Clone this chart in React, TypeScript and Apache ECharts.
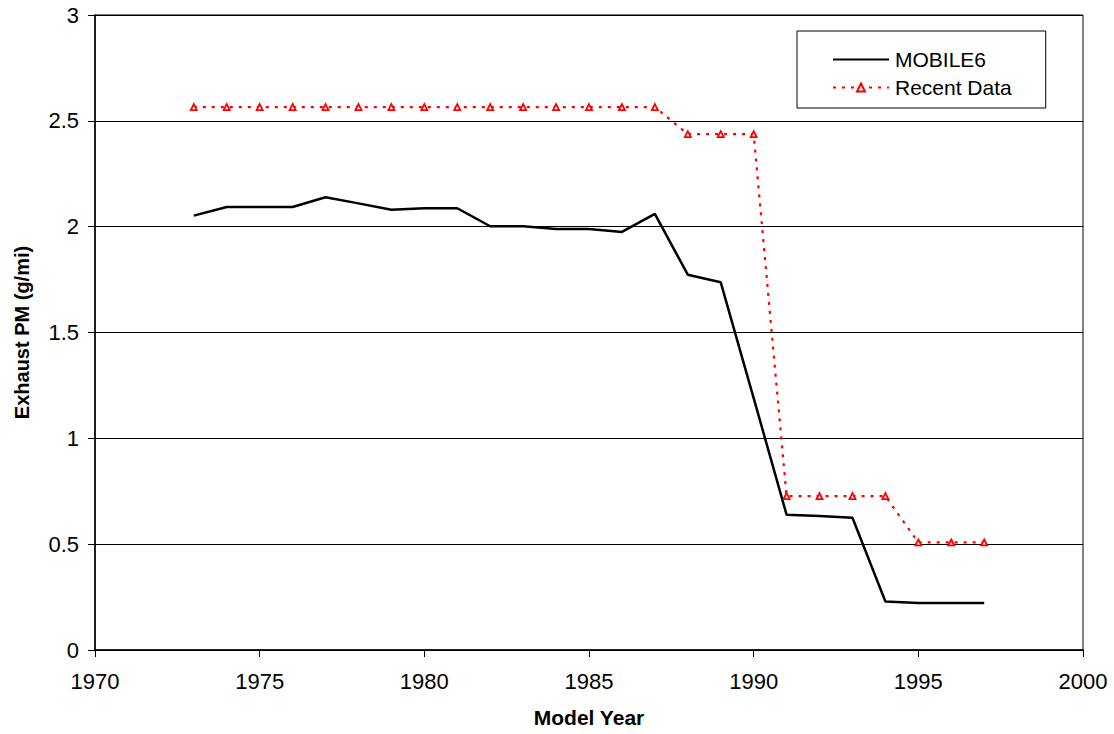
import React, { useEffect, useRef } from "react";
import * as echarts from "echarts";

const years = [1973, 1974, 1975, 1976, 1977, 1978, 1979, 1980, 1981, 1982, 1983, 1984, 1985, 1986, 1987, 1988, 1989, 1990, 1991, 1992, 1993, 1994, 1995, 1996, 1997];
const mobile6 = [2.052, 2.093, 2.093, 2.093, 2.139, 2.110, 2.080, 2.087, 2.087, 2.002, 2.002, 1.989, 1.989, 1.975, 2.060, 1.773, 1.737, 1.19, 0.639, 0.633, 0.625, 0.229, 0.222, 0.222, 0.222];
const recentData = [2.565, 2.565, 2.565, 2.565, 2.565, 2.565, 2.565, 2.565, 2.565, 2.565, 2.565, 2.565, 2.565, 2.565, 2.565, 2.437, 2.437, 2.437, 0.727, 0.727, 0.727, 0.727, 0.508, 0.508, 0.508];
const seriesNames = ["MOBILE6", "Recent Data"];
const xTitle = "Model Year";
const yTitle = "Exhaust PM (g/mi)";

const FONT = "'Liberation Sans', Arial, sans-serif";

export default function App() {
  const ref = useRef<HTMLDivElement>(null);
  useEffect(() => {
    if (!ref.current) return;
    const chart = echarts.init(ref.current, null, { renderer: "svg" });
    chart.setOption({
      animation: false,
      backgroundColor: "#fff",
      textStyle: { fontFamily: FONT, color: "#000" },
      grid: { left: 95, right: 31, top: 15, bottom: 84, show: true, borderColor: "#000", borderWidth: 1, backgroundColor: "transparent" },
      legend: {
        orient: "vertical",
        left: 797,
        top: 31,
        width: 249,
        padding: [18, 34, 10, 35],
        borderColor: "#000",
        borderWidth: 1,
        itemWidth: 56,
        itemHeight: 10,
        itemGap: 7,
        textStyle: { fontSize: 21, color: "#000", fontFamily: FONT, padding: [0, 0, 0, 1] },
        data: [
          { name: seriesNames[0], itemStyle: { opacity: 0, color: "rgba(0,0,0,0)", borderWidth: 0 } },
          { name: seriesNames[1] },
        ],
      },
      xAxis: {
        type: "value",
        min: 1970,
        max: 2000,
        interval: 5,
        name: xTitle,
        nameLocation: "middle",
        nameGap: 57,
        nameTextStyle: { fontSize: 21, fontWeight: "bold", color: "#000", fontFamily: FONT },
        axisLine: { show: true, lineStyle: { color: "#000", width: 1.5 } },
        axisTick: { show: true, length: 7, lineStyle: { color: "#000" } },
        axisLabel: { fontSize: 22, color: "#000", margin: 20, fontFamily: FONT, formatter: (v: number) => String(v) },
        splitLine: { show: false },
      },
      yAxis: {
        type: "value",
        min: 0,
        max: 3,
        interval: 0.5,
        name: yTitle,
        nameLocation: "middle",
        nameGap: 63,
        nameTextStyle: { fontSize: 20, fontWeight: "bold", color: "#000", fontFamily: FONT },
        axisLine: { show: true, lineStyle: { color: "#000", width: 1.5 } },
        axisTick: { show: true, length: 7, lineStyle: { color: "#000" } },
        axisLabel: { fontSize: 22, color: "#000", margin: 16, fontFamily: FONT },
        splitLine: { show: true, lineStyle: { color: "#000", width: 1 } },
      },
      series: [
        {
          name: seriesNames[0],
          type: "line",
          data: years.map((y, i) => [y, mobile6[i]]),
          showSymbol: false,
          symbol: "none",
          lineStyle: { color: "#000", width: 2.5 },
          itemStyle: { color: "#000" },
        },
        {
          name: seriesNames[1],
          type: "line",
          data: years.map((y, i) => [y, recentData[i]]),
          symbol: "triangle",
          symbolSize: 6,
          lineStyle: { color: "#ff0000", width: 2.2, type: [3, 6] },
          itemStyle: { color: "#fff", borderColor: "#ff0000", borderWidth: 1.8 },
        },
      ],
    });
    return () => chart.dispose();
  }, []);
  return <div ref={ref} style={{ position: "fixed", left: 0, top: 0, width: 1114, height: 734 }} />;
}
